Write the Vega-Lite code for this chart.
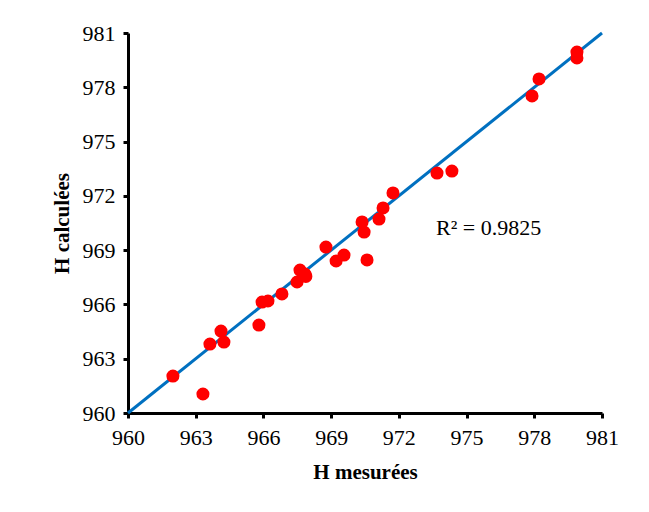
{
  "$schema": "https://vega.github.io/schema/vega-lite/v6.json",
  "autosize": "none",
  "width": 474,
  "height": 380,
  "padding": {"left": 128, "top": 33, "right": 47, "bottom": 99},
  "background": "white",
  "config": {
    "view": {"stroke": null},
    "font": "Liberation Serif",
    "axis": {
      "grid": false,
      "domainColor": "black",
      "domainWidth": 3,
      "tickColor": "black",
      "tickWidth": 3,
      "tickSize": 5,
      "labelFlush": false,
      "labelFont": "Liberation Serif",
      "labelFontSize": 22,
      "labelColor": "black",
      "titleFont": "Liberation Serif",
      "titleFontSize": 21,
      "titleFontWeight": "bold",
      "titleColor": "black"
    }
  },
  "datasets": {
    "points": [
      {"mesure": 961.99, "calcule": 962.04},
      {"mesure": 963.32, "calcule": 961.05},
      {"mesure": 963.63, "calcule": 963.81},
      {"mesure": 964.12, "calcule": 964.53},
      {"mesure": 964.25, "calcule": 963.92},
      {"mesure": 965.80, "calcule": 964.86},
      {"mesure": 965.94, "calcule": 966.13},
      {"mesure": 966.20, "calcule": 966.19},
      {"mesure": 966.82, "calcule": 966.58},
      {"mesure": 967.49, "calcule": 967.24},
      {"mesure": 967.62, "calcule": 967.90},
      {"mesure": 967.84, "calcule": 967.68},
      {"mesure": 967.88, "calcule": 967.55},
      {"mesure": 968.77, "calcule": 969.17},
      {"mesure": 969.22, "calcule": 968.40},
      {"mesure": 969.57, "calcule": 968.73},
      {"mesure": 970.37, "calcule": 970.56},
      {"mesure": 970.46, "calcule": 970.00},
      {"mesure": 970.59, "calcule": 968.46},
      {"mesure": 971.12, "calcule": 970.72},
      {"mesure": 971.30, "calcule": 971.33},
      {"mesure": 971.74, "calcule": 972.16},
      {"mesure": 973.69, "calcule": 973.26},
      {"mesure": 974.35, "calcule": 973.37},
      {"mesure": 977.90, "calcule": 977.52},
      {"mesure": 978.21, "calcule": 978.46},
      {"mesure": 979.89, "calcule": 979.95},
      {"mesure": 979.89, "calcule": 979.62}
    ],
    "trend": [
      {"mesure": 960, "calcule": 960},
      {"mesure": 981, "calcule": 981}
    ],
    "label": [
      {"mesure": 973.65, "calcule": 970.2, "text": "R² = 0.9825"}
    ]
  },
  "layer": [
    {
      "data": {"name": "trend"},
      "mark": {"type": "line", "color": "#0070C0", "strokeWidth": 3},
      "encoding": {
        "x": {
          "field": "mesure", "type": "quantitative",
          "scale": {"domain": [960, 981], "nice": false, "zero": false},
          "axis": {"values": [960, 963, 966, 969, 972, 975, 978, 981], "title": "H mesurées", "labelPadding": 9, "titlePadding": 13}
        },
        "y": {
          "field": "calcule", "type": "quantitative",
          "scale": {"domain": [960, 981], "nice": false, "zero": false},
          "axis": {"values": [960, 963, 966, 969, 972, 975, 978, 981], "title": "H calculées", "labelPadding": 8, "titlePadding": 10}
        }
      }
    },
    {
      "data": {"name": "points"},
      "mark": {"type": "circle", "color": "#FF0000", "opacity": 1, "size": 170},
      "encoding": {
        "x": {"field": "mesure", "type": "quantitative"},
        "y": {"field": "calcule", "type": "quantitative"}
      }
    },
    {
      "data": {"name": "label"},
      "mark": {"type": "text", "align": "left", "baseline": "middle", "fontSize": 22, "font": "Liberation Serif", "color": "black"},
      "encoding": {
        "x": {"field": "mesure", "type": "quantitative"},
        "y": {"field": "calcule", "type": "quantitative"},
        "text": {"field": "text"}
      }
    }
  ]
}
